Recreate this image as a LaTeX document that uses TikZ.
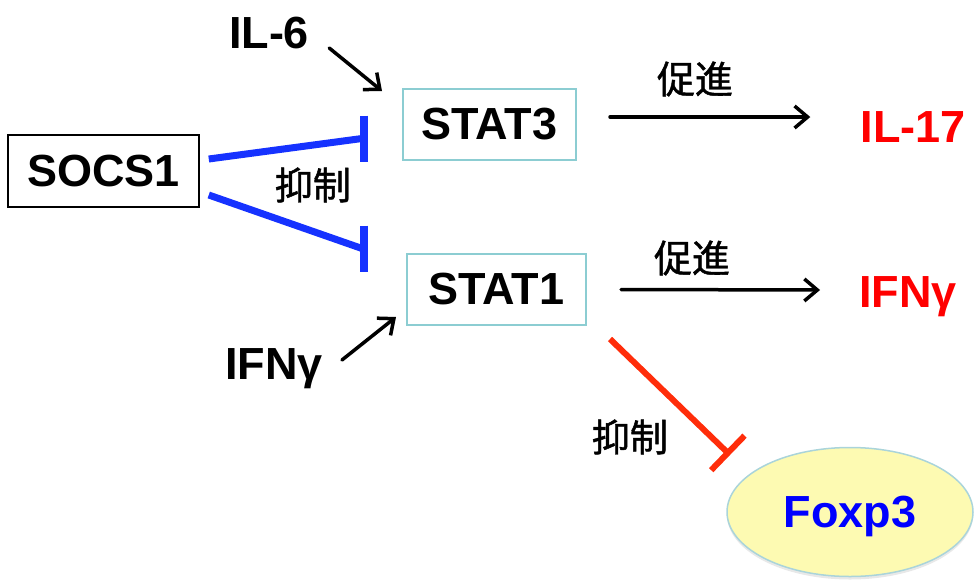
\documentclass[tikz,border=0pt]{standalone}
\usepackage{fontspec}
\setmainfont{Liberation Sans}
\newfontfamily\cjk{Noto Sans CJK JP}[FakeBold=1.2]
\usetikzlibrary{arrows.meta,shapes.geometric,shadows}

\definecolor{boxteal}{RGB}{140,205,210}
\definecolor{inhblue}{RGB}{22,50,255}
\definecolor{inhred}{RGB}{255,45,10}
\definecolor{txtred}{RGB}{255,0,0}
\definecolor{foxfill}{RGB}{253,250,178}
\definecolor{foxedge}{RGB}{170,212,218}

\tikzset{
  big/.style={font=\fontsize{45}{50}\selectfont\bfseries, inner sep=0pt},
  jp/.style={font=\cjk\fontsize{38}{42}\selectfont, inner sep=0pt},
  statbox/.style={big, draw=boxteal, line width=2pt},
  prom/.style={line width=3.5pt, line cap=round, -{Straight Barb[length=13pt,width=22pt,line width=3.5pt]}},
  inh/.style={inhblue, line width=7pt},
  inhbar/.style={inhblue, line width=8pt},
}

\begin{document}
\begin{tikzpicture}[x=1pt,y=-1pt]
  \useasboundingbox (0,0) rectangle (980,584);

  % regulators
  \node[big, draw=black, line width=1.5pt, minimum width=191pt, minimum height=72pt] (socs) at (103.5,171) {SOCS1};
  \node[statbox, minimum width=173pt, minimum height=71pt] (stat3) at (489.5,124.5) {STAT3};
  \node[statbox, minimum width=179pt, minimum height=71pt] (stat1) at (496.5,289.5) {STAT1};

  % inputs
  \node[big, anchor=base] (il6) at (269,48) {IL-6};
  \node[big, anchor=base] (ifnL) at (274,379) {IFNγ};

  % outputs
  \node[big, anchor=base, text=txtred] (il17) at (913,142) {IL-17};
  \node[big, anchor=base, text=txtred] (ifnR) at (908,307) {IFNγ};
  \node[ellipse, draw=foxedge, line width=1.5pt, fill=foxfill,
        minimum width=246pt, minimum height=129pt,
        drop shadow={opacity=0.18, shadow xshift=0pt, shadow yshift=-3pt},
        font=\fontsize{45}{50}\selectfont\bfseries, text=blue, text depth=0pt]
        (fox) at (850,512) {Foxp3};

  % labels
  \node[jp] (lab1) at (695,79) {促進};
  \node[jp] (lab2) at (692,258) {促進};
  \node[jp] (lab3) at (313,185) {抑制};
  \node[jp] (lab4) at (630,437) {抑制};

  % activating inputs
  \draw[prom] ([shift={(20,0)}]il6.base east) -- ([shift={(-20,3)}]stat3.north west);
  \draw[prom] ([shift={(19,-19)}]ifnL.base east) -- ([shift={(-10,-9)}]stat1.south west);

  % promotion
  \draw[prom] ([shift={(33,-7.5)}]stat3.east) -- ([shift={(-50,-25)}]il17.base west);
  \draw[prom] ([shift={(34,0)}]stat1.east) -- ([shift={(-39,-17)}]ifnR.base west);

  % SOCS1 inhibition
  \coordinate (bar3) at ([shift={(-38,14)}]stat3.west);
  \coordinate (bar1) at ([shift={(-42,-41)}]stat1.west);
  \draw[inh] ([shift={(9,-12)}]socs.east) -- ([xshift=-2pt]bar3);
  \draw[inh] ([shift={(9,24)}]socs.east) -- ([xshift=-2pt]bar1);
  \draw[inhbar] ([yshift=23pt]bar3) -- ([yshift=-23pt]bar3);
  \draw[inhbar] ([yshift=23pt]bar1) -- ([yshift=-23pt]bar1);

  % STAT1 inhibits Foxp3
  \draw[inhred, line width=6pt, -{Bar[width=48pt,line width=6pt]}]
    ([shift={(23,13)}]stat1.south east) -- ([shift={(-120,-57)}]fox.center);
\end{tikzpicture}
\end{document}
